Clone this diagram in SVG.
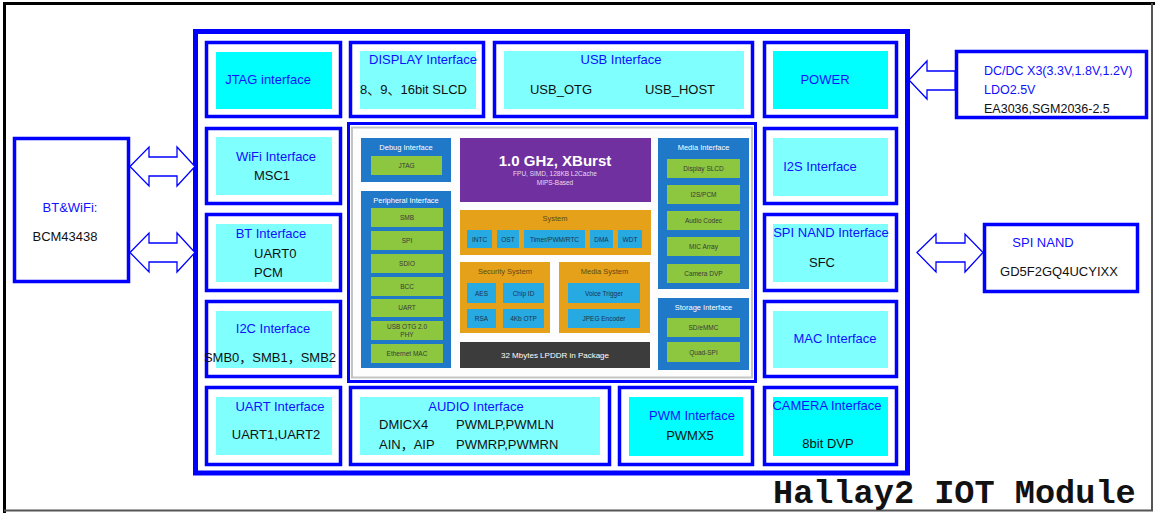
<svg xmlns="http://www.w3.org/2000/svg" width="1155" height="513" viewBox="0 0 1155 513">
<style>
text{font-family:"Liberation Sans","Noto Sans CJK SC",sans-serif}
.cell{fill:#fff;stroke:#0000ff;stroke-width:3.5}
.cy{fill:#80ffff}
.cyb{fill:#00ffff}
.bt{font-size:13px;fill:#1010ff}
.kt{font-size:13px;fill:#111}
.ext{fill:#fff;stroke:#0000ff;stroke-width:3.5}
.arr{fill:#fff;stroke:#0000ff;stroke-width:1.3}
.ib{fill:#1f78c8}
.gb{fill:#8dc63f}
.ob{fill:#e6a11a}
.lb{fill:#27a9e1}
.wl{font-size:7.5px;fill:#fff}
.gl{font-size:6.5px;fill:#3a3a3a}
.ol{font-size:7.5px;fill:#5c4a14}
.sl{font-size:6.5px;fill:#1d3450}
text.ttl{font-family:"Liberation Mono","DejaVu Sans Mono",monospace;font-weight:bold;font-size:33.6px;fill:#111}
</style>
<rect x="0" y="0" width="1155" height="513" fill="#fff"/>
<line x1="4.5" y1="2" x2="4.5" y2="513" stroke="#000" stroke-width="3"/>
<line x1="3" y1="3.5" x2="1155" y2="3.5" stroke="#000" stroke-width="3"/>
<line x1="1152" y1="3" x2="1152" y2="511" stroke="#555" stroke-width="2"/>
<line x1="4" y1="510.5" x2="1153" y2="510.5" stroke="#555" stroke-width="2"/>

<g id="module-frame">
<rect x="195.5" y="31.5" width="712" height="441.5" fill="none" stroke="#0000ff" stroke-width="5"/>
</g>

<g id="jtag"><rect class="cell" x="206.5" y="42.5" width="134" height="74"/><rect class="cyb" x="216" y="52" width="116" height="57"/><text class="bt" x="268" y="84" text-anchor="middle">JTAG interface</text></g>
<g id="display"><rect class="cell" x="350.5" y="42.5" width="133" height="74"/><rect class="cy" x="360" y="51" width="116" height="58"/><text class="bt" x="423" y="64" text-anchor="middle">DISPLAY Interface</text><text class="kt" x="360" y="94">8、9、16bit SLCD</text></g>
<g id="usb"><rect class="cell" x="494.5" y="42.5" width="258" height="74"/><rect class="cy" x="504" y="51" width="240" height="58"/><text class="bt" x="621" y="64" text-anchor="middle">USB Interface</text><text class="kt" x="561" y="94" text-anchor="middle">USB_OTG</text><text class="kt" x="680" y="94" text-anchor="middle">USB_HOST</text></g>
<g id="power"><rect class="cell" x="764.5" y="42.5" width="132" height="74"/><rect class="cyb" x="773" y="51" width="115" height="58"/><text class="bt" x="825" y="84" text-anchor="middle">POWER</text></g>

<g id="wifi-if"><rect class="cell" x="206.5" y="128.5" width="134" height="75"/><rect class="cy" x="216" y="137" width="116" height="58"/><text class="bt" x="276" y="161" text-anchor="middle">WiFi Interface</text><text class="kt" x="272" y="180" text-anchor="middle">MSC1</text></g>
<g id="bt-if"><rect class="cell" x="206.5" y="214.5" width="134" height="76"/><rect class="cy" x="216" y="224" width="116" height="58"/><text class="bt" x="271" y="238" text-anchor="middle">BT Interface</text><text class="kt" x="254" y="258">UART0</text><text class="kt" x="254" y="277">PCM</text></g>
<g id="i2c-if"><rect class="cell" x="206.5" y="301.5" width="134" height="75"/><rect class="cy" x="216" y="311" width="116" height="57"/><text class="bt" x="273" y="333" text-anchor="middle">I2C Interface</text><text class="kt" x="270" y="362" text-anchor="middle">SMB0，SMB1，SMB2</text></g>
<g id="uart-if"><rect class="cell" x="206.5" y="387.5" width="134" height="77"/><rect class="cy" x="216" y="397" width="116" height="58"/><text class="bt" x="280" y="411" text-anchor="middle">UART Interface</text><text class="kt" x="276" y="439" text-anchor="middle">UART1,UART2</text></g>
<g id="audio-if"><rect class="cell" x="350.5" y="387.5" width="259" height="77"/><rect class="cy" x="360" y="397" width="240" height="58"/><text class="bt" x="476" y="411" text-anchor="middle">AUDIO Interface</text><text class="kt" x="379" y="429">DMICX4</text><text class="kt" x="456" y="429">PWMLP,PWMLN</text><text class="kt" x="379" y="449">AIN，AIP</text><text class="kt" x="456" y="449">PWMRP,PWMRN</text></g>
<g id="pwm-if"><rect class="cell" x="619.5" y="387.5" width="133" height="77"/><rect class="cyb" x="629" y="397" width="114" height="59"/><text class="bt" x="692" y="420" text-anchor="middle">PWM Interface</text><text class="kt" x="690" y="440" text-anchor="middle">PWMX5</text></g>
<g id="camera-if"><rect class="cell" x="764.5" y="387.5" width="132" height="77"/><rect class="cyb" x="773" y="397" width="115" height="59"/><text class="bt" x="827" y="410" text-anchor="middle">CAMERA Interface</text><text class="kt" x="828" y="448" text-anchor="middle">8bit DVP</text></g>
<g id="i2s-if"><rect class="cell" x="764.5" y="128.5" width="132" height="75"/><rect class="cy" x="773" y="138" width="115" height="58"/><text class="bt" x="820" y="171" text-anchor="middle">I2S Interface</text></g>
<g id="spinand-if"><rect class="cell" x="764.5" y="214.5" width="132" height="76"/><rect class="cy" x="773" y="224" width="115" height="58"/><text class="bt" x="831" y="237" text-anchor="middle">SPI NAND Interface</text><text class="kt" x="822" y="267" text-anchor="middle">SFC</text></g>
<g id="mac-if"><rect class="cell" x="764.5" y="301.5" width="132" height="75"/><rect class="cy" x="773" y="311" width="115" height="57"/><text class="bt" x="835" y="343" text-anchor="middle">MAC Interface</text></g>

<g id="soc">
<rect x="348.5" y="123.5" width="407" height="258" fill="#fff" stroke="#0000ff" stroke-width="3"/>
<rect x="352" y="127.5" width="400" height="250" fill="#fdfdfd" stroke="#c4c4c4" stroke-width="2"/>
<rect class="ib" x="361" y="138" width="90" height="44"/>
<text class="wl" x="406" y="150" text-anchor="middle">Debug Interface</text>
<rect class="gb" x="371" y="156" width="71" height="19"/><text class="gl" x="406.5" y="168" text-anchor="middle">JTAG</text>
<rect class="ib" x="361" y="191" width="90" height="177"/>
<text class="wl" x="406" y="203" text-anchor="middle">Peripheral Interface</text>
<rect class="gb" x="371" y="208" width="72" height="19"/><text class="gl" x="407" y="220" text-anchor="middle">SMB</text>
<rect class="gb" x="371" y="231" width="72" height="19"/><text class="gl" x="407" y="243" text-anchor="middle">SPI</text>
<rect class="gb" x="371" y="254" width="72" height="19"/><text class="gl" x="407" y="266" text-anchor="middle">SDIO</text>
<rect class="gb" x="371" y="277" width="72" height="19"/><text class="gl" x="407" y="289" text-anchor="middle">BCC</text>
<rect class="gb" x="371" y="299" width="72" height="18"/><text class="gl" x="407" y="310" text-anchor="middle">UART</text>
<rect class="gb" x="371" y="321" width="72" height="19"/><text class="gl" x="407" y="329" text-anchor="middle">USB OTG 2.0</text><text class="gl" x="407" y="337" text-anchor="middle">PHY</text>
<rect class="gb" x="371" y="344" width="72" height="19"/><text class="gl" x="407" y="356" text-anchor="middle">Ethernet MAC</text>

<rect x="460" y="138" width="191" height="64" fill="#7030a0"/>
<text x="555" y="166" text-anchor="middle" font-size="15" font-weight="bold" fill="#fff">1.0 GHz, XBurst</text>
<text x="555" y="176" text-anchor="middle" font-size="6.5" fill="#e8dcf0">FPU, SIMD, 128KB L2Cache</text>
<text x="555" y="185" text-anchor="middle" font-size="6.5" fill="#e8dcf0">MIPS-Based</text>

<rect class="ob" x="460" y="210" width="191" height="45"/>
<text class="ol" x="555" y="221" text-anchor="middle">System</text>
<rect class="lb" x="467" y="230" width="25" height="18"/><text class="sl" x="479.5" y="241.5" text-anchor="middle">INTC</text>
<rect class="lb" x="497" y="230" width="22" height="18"/><text class="sl" x="508" y="241.5" text-anchor="middle">OST</text>
<rect class="lb" x="524" y="230" width="61" height="18"/><text class="sl" x="554.5" y="241.5" text-anchor="middle">Timer/PWM/RTC</text>
<rect class="lb" x="590" y="230" width="23" height="18"/><text class="sl" x="601.5" y="241.5" text-anchor="middle">DMA</text>
<rect class="lb" x="618" y="230" width="24" height="18"/><text class="sl" x="630" y="241.5" text-anchor="middle">WDT</text>

<rect class="ob" x="460" y="262" width="90" height="71"/>
<text class="ol" x="505" y="274" text-anchor="middle">Security System</text>
<rect class="lb" x="467" y="283" width="29" height="20"/><text class="sl" x="481.5" y="295.5" text-anchor="middle">AES</text>
<rect class="lb" x="503" y="283" width="41" height="20"/><text class="sl" x="523.5" y="295.5" text-anchor="middle">Chip ID</text>
<rect class="lb" x="467" y="309" width="29" height="19"/><text class="sl" x="481.5" y="321" text-anchor="middle">RSA</text>
<rect class="lb" x="503" y="309" width="41" height="19"/><text class="sl" x="523.5" y="321" text-anchor="middle">4Kb OTP</text>

<rect class="ob" x="559" y="262" width="91" height="71"/>
<text class="ol" x="604.5" y="274" text-anchor="middle">Media System</text>
<rect class="lb" x="568" y="283" width="72" height="20"/><text class="sl" x="604" y="295.5" text-anchor="middle">Voice Trigger</text>
<rect class="lb" x="568" y="309" width="72" height="19"/><text class="sl" x="604" y="321" text-anchor="middle">JPEG Encoder</text>

<rect x="460" y="342" width="190" height="26" fill="#3c3c3c"/>
<text x="555" y="358" text-anchor="middle" font-size="8" fill="#fff">32 Mbytes LPDDR  in Package</text>

<rect class="ib" x="658" y="138" width="91" height="151"/>
<text class="wl" x="703.5" y="150" text-anchor="middle">Media Interface</text>
<rect class="gb" x="667" y="159" width="73" height="19"/><text class="gl" x="703.5" y="171" text-anchor="middle">Display SLCD</text>
<rect class="gb" x="667" y="185" width="73" height="19"/><text class="gl" x="703.5" y="197" text-anchor="middle">I2S/PCM</text>
<rect class="gb" x="667" y="211" width="73" height="19"/><text class="gl" x="703.5" y="223" text-anchor="middle">Audio Codec</text>
<rect class="gb" x="667" y="237" width="73" height="19"/><text class="gl" x="703.5" y="249" text-anchor="middle">MIC Array</text>
<rect class="gb" x="667" y="264" width="73" height="19"/><text class="gl" x="703.5" y="276" text-anchor="middle">Camera DVP</text>
<rect class="ib" x="658" y="298" width="91" height="72"/>
<text class="wl" x="703.5" y="310" text-anchor="middle">Storage Interface</text>
<rect class="gb" x="667" y="318" width="73" height="19"/><text class="gl" x="703.5" y="330" text-anchor="middle">SD/eMMC</text>
<rect class="gb" x="667" y="342" width="73" height="20"/><text class="gl" x="703.5" y="354.5" text-anchor="middle">Quad-SPI</text>
</g>

<g id="bt-wifi-chip"><rect class="ext" x="14.5" y="138.5" width="114" height="143"/><text x="70" y="212" text-anchor="middle" font-size="13" fill="#1010ff">BT&amp;WiFi:</text><text x="65" y="241" text-anchor="middle" font-size="13" fill="#111">BCM43438</text></g>
<g id="pmic"><rect class="ext" x="956.5" y="51.5" width="190" height="66"/><text x="984" y="75" font-size="12.5" fill="#1010ff">DC/DC X3(3.3V,1.8V,1.2V)</text><text x="984" y="94" font-size="12.5" fill="#1010ff">LDO2.5V</text><text x="984" y="113" font-size="12.5" fill="#111">EA3036,SGM2036-2.5</text></g>
<g id="spi-nand"><rect class="ext" x="984.5" y="224.5" width="153" height="67"/><text x="1043" y="247" text-anchor="middle" font-size="13" fill="#1010ff">SPI NAND</text><text x="1059" y="276" text-anchor="middle" font-size="13" fill="#111">GD5F2GQ4UCYIXX</text></g>

<g id="connectors">
<path class="arr" d="M130,166.5 L149,147 L149,157 L177,157 L177,147 L195,166.5 L177,186 L177,176 L149,176 L149,186 Z"/>
<path class="arr" d="M130,252.5 L149,233 L149,243 L177,243 L177,233 L195,252.5 L177,272 L177,262 L149,262 L149,272 Z"/>
<path class="arr" d="M909,80 L927,61 L927,71 L955,71 L955,90 L927,90 L927,99 Z"/>
<path class="arr" d="M917,252.5 L936,234 L936,243 L965,243 L965,234 L983,252.5 L965,272 L965,262 L936,262 L936,272 Z"/>
</g>

<g id="title"><text class="ttl" x="773" y="503">Hallay2 IOT Module</text></g>
</svg>
